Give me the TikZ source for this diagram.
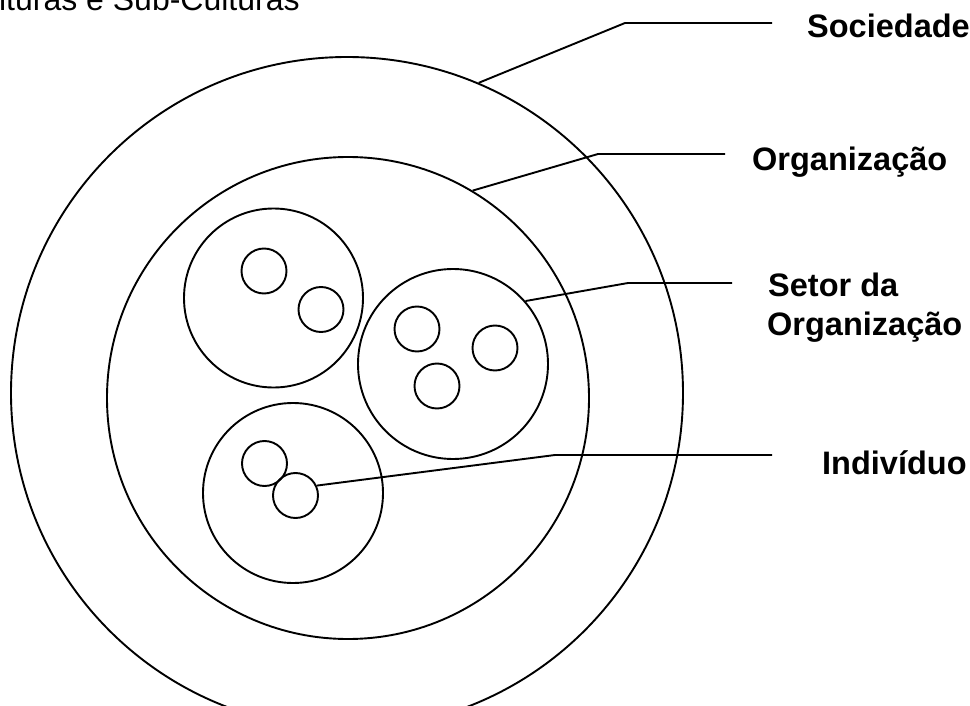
\documentclass[tikz,border=0pt]{standalone}
\usepackage{fontspec}
\setmainfont{Liberation Sans}
\begin{document}
\begin{tikzpicture}[x=1pt,y=-1pt,
  ring/.style={circle,draw,line width=1.9pt,inner sep=0pt},
  leader/.style={line width=1.9pt},
  lbl/.style={anchor=base west,inner sep=0pt,font=\fontsize{32.5}{38}\selectfont\bfseries},
  ttl/.style={anchor=base west,inner sep=0pt,font=\fontsize{32}{38}\selectfont}]
\useasboundingbox (0,0) rectangle (970,706);
% title (cut off by page edge, as in the reference)
\node[ttl] (title) at (-42,11) {Culturas e Sub-Culturas};
% circles
\node[ring,minimum size=672pt] (soc) at (347,393) {};
\node[ring,minimum size=482pt] (org) at (348,398) {};
\node[ring,minimum size=179pt] (s1) at (273.5,298) {};
\node[ring,minimum size=190pt] (s2) at (453,364) {};
\node[ring,minimum size=180pt] (s3) at (293,493) {};
\node[ring,minimum size=45pt] (i1) at (264,271) {};
\node[ring,minimum size=45pt] (i2) at (321,309.5) {};
\node[ring,minimum size=45pt] (i3) at (417,329) {};
\node[ring,minimum size=45pt] (i4) at (495,348) {};
\node[ring,minimum size=45pt] (i5) at (437,386) {};
\node[ring,minimum size=45pt] (i6) at (264.5,463.5) {};
\node[ring,minimum size=45pt] (i7) at (295.5,495.5) {};
% labels
\node[lbl] (lsoc) at (807,38) {Sociedade};
\node[lbl] (lorg) at (752,171) {Organização};
\node[lbl] (lset1) at (768,296) {Setor da};
\node[lbl] (lset2) at (767,335) {Organização};
\node[lbl] (lind) at (822,474) {Indivíduo};
% leader corners and ends
\coordinate (csoc) at (625,23);  \coordinate (esoc) at (772,23);
\coordinate (corg) at (598,154); \coordinate (eorg) at (725,154);
\coordinate (cset) at (628,283); \coordinate (eset) at (732,283);
\coordinate (cind) at (555,455); \coordinate (eind) at (772,455);
\draw[leader] (soc.67.3) -- (csoc) -- (esoc);
\draw[leader] (org.59.2) -- (corg) -- (eorg);
\draw[leader] (s2.41.6) -- (cset) -- (eset);
\draw[leader] (i7.25) -- (cind) -- (eind);
\end{tikzpicture}
\end{document}
